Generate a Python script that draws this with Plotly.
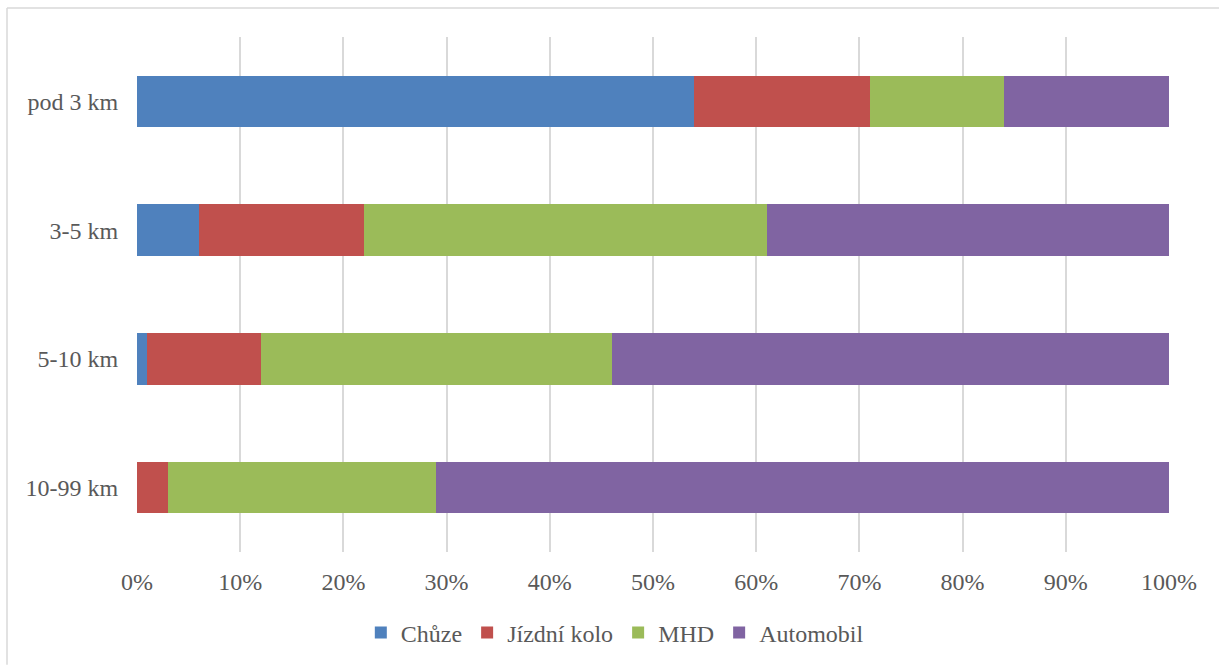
import plotly.graph_objects as go

categories = ["pod 3 km", "3-5 km", "5-10 km", "10-99 km"]
chuze = [54, 6, 1, 0]
kolo = [17, 16, 11, 3]
mhd = [13, 39, 34, 26]
auto = [16, 39, 54, 71]

series = [
    ("Chůze", chuze, "#4f81bd"),
    ("Jízdní kolo", kolo, "#c0504d"),
    ("MHD", mhd, "#9bbb59"),
    ("Automobil", auto, "#8064a2"),
]

fig = go.Figure()
for name, vals, color in series:
    fig.add_trace(go.Bar(
        y=categories, x=[v / 100 for v in vals], name=name, orientation="h",
        marker=dict(color=color, line=dict(width=0)),
    ))

font = "Liberation Serif, Times New Roman, serif"
fig.update_layout(
    width=1219, height=666,
    barmode="stack", bargap=0.6,
    paper_bgcolor="white", plot_bgcolor="white",
    margin=dict(l=137, r=50, t=37, b=113),
    font=dict(family=font, size=24, color="#595959"),
    xaxis=dict(range=[0, 1], tickformat=".0%", dtick=0.1, showgrid=True,
               gridcolor="#d9d9d9", gridwidth=1.5, zeroline=False, showline=False,
               ticks="outside", ticklen=8, tickcolor="rgba(0,0,0,0)",
               tickfont=dict(size=24, color="#595959")),
    yaxis=dict(autorange="reversed", showgrid=False, zeroline=False, showline=False,
               ticks="outside", ticklen=13, tickcolor="rgba(0,0,0,0)",
               tickfont=dict(size=24, color="#595959")),
    legend=dict(orientation="h", x=0.463, xanchor="center", y=-0.155, yanchor="middle",
                font=dict(size=24, color="#595959"), traceorder="normal", itemwidth=30),
    showlegend=True,
    shapes=[
        dict(type="line", xref="paper", yref="paper", x0=(7 - 137) / 1032, x1=(1219 - 137) / 1032,
             y0=(553 - 8) / 516, y1=(553 - 8) / 516, line=dict(color="#d9d9d9", width=1.5)),
        dict(type="line", xref="paper", yref="paper", x0=(7 - 137) / 1032, x1=(7 - 137) / 1032,
             y0=(553 - 8) / 516, y1=(553 - 666) / 516, line=dict(color="#d9d9d9", width=1.5)),
    ],
)

fig.write_html("out.html")
